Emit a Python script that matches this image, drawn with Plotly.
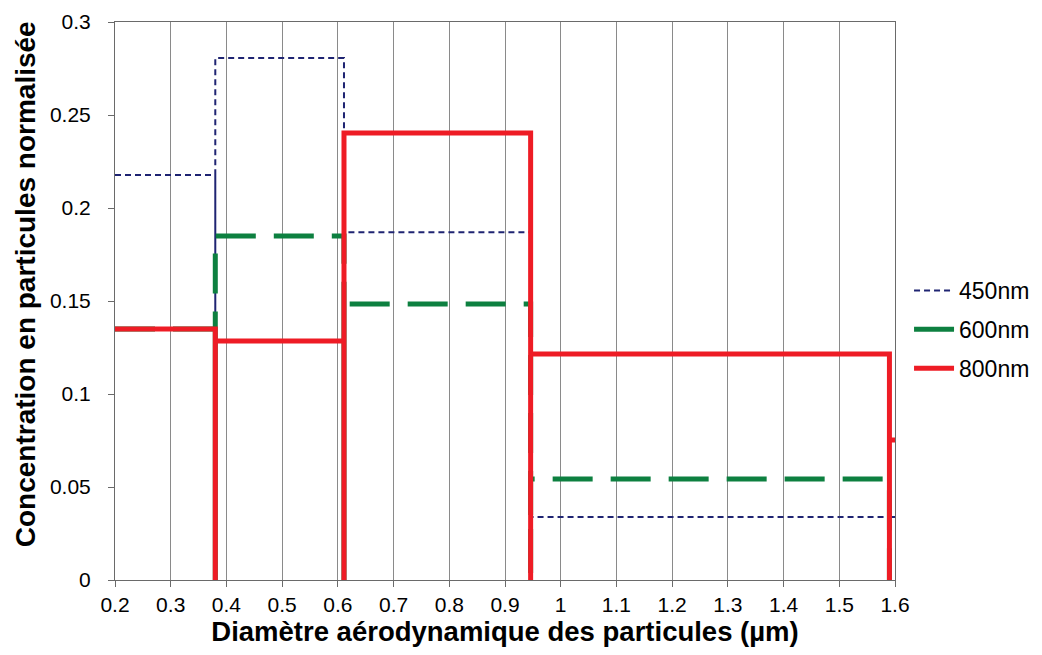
import plotly.graph_objects as go

# Bin edges (µm) and normalised concentrations per bin
edges = [0.2, 0.38, 0.611, 0.946, 1.59, 2.0]
c450 = [0.2177, 0.2806, 0.187, 0.0339, 0.0339]
c600 = [0.135, 0.185, 0.1484, 0.0543]
c800 = [0.135, 0.1285, 0.2403, 0.1215, 0.0753]
series_names = ["450nm", "600nm", "800nm"]

x_ticks = [0.2, 0.3, 0.4, 0.5, 0.6, 0.7, 0.8, 0.9, 1.0, 1.1, 1.2, 1.3, 1.4, 1.5, 1.6]
x_ticklabels = ["0.2", "0.3", "0.4", "0.5", "0.6", "0.7", "0.8", "0.9", "1",
                "1.1", "1.2", "1.3", "1.4", "1.5", "1.6"]
y_ticks = [0, 0.05, 0.1, 0.15, 0.2, 0.25, 0.3]
y_ticklabels = ["0", "0.05", "0.1", "0.15", "0.2", "0.25", "0.3"]
x_title = "Diamètre aérodynamique des particules (µm)"
y_title = "Concentration en particules normalisée"


def step_path(vals):
    xs, ys = [], []
    for i, v in enumerate(vals):
        xs += [edges[i], edges[i + 1], edges[i + 1]]
        ys += [v, v, 0]
    return xs, ys


FONT = "Liberation Sans, Arial, sans-serif"
colors = ["#1f2472", "#0d8040", "#ee1c25"]

fig = go.Figure()

x, y = step_path(c450)
fig.add_trace(go.Scatter(x=x, y=y, mode="lines", name=series_names[0], legendgroup="a",
                         line=dict(color=colors[0], width=2, dash="6px,4px")))
x, y = step_path(c600)
fig.add_trace(go.Scatter(x=x, y=y, mode="lines", name=series_names[1], showlegend=False,
                         legendgroup="b",
                         line=dict(color=colors[1], width=5, dash="40px,18px")))
fig.add_trace(go.Scatter(x=[None], y=[None], mode="lines", name=series_names[1],
                         legendgroup="b", line=dict(color=colors[1], width=5)))
x, y = step_path(c800)
fig.add_trace(go.Scatter(x=x, y=y, mode="lines", name=series_names[2], legendgroup="c",
                         line=dict(color=colors[2], width=5)))

fig.update_layout(
    width=1034, height=647,
    paper_bgcolor="white", plot_bgcolor="white",
    margin=dict(l=107, r=147, t=14, b=75, autoexpand=False),
    font=dict(family=FONT, color="black", size=21),
    legend=dict(x=1.018, xanchor="left", y=0.449, yanchor="middle",
                font=dict(size=23, family=FONT), bgcolor="rgba(0,0,0,0)",
                itemwidth=40, tracegroupgap=6),
)
fig.update_xaxes(
    range=[0.2, 1.6], tickvals=x_ticks, ticktext=x_ticklabels,
    showgrid=True, gridcolor="#8a8a8a", gridwidth=1,
    showline=True, linecolor="#6a6a6a", linewidth=1, mirror=True,
    ticks="outside", ticklen=6, tickcolor="#6a6a6a", automargin=False,
    zeroline=False, tickfont=dict(size=21),
    title=dict(text="<b>" + x_title + "</b>", font=dict(size=27.5), standoff=2),
)
fig.update_yaxes(
    range=[0, 0.3], tickvals=y_ticks, ticktext=y_ticklabels,
    showgrid=False, automargin=False, ticklabelstandoff=13,
    showline=True, linecolor="#6a6a6a", linewidth=1, mirror=True,
    ticks="outside", ticklen=6, tickcolor="#6a6a6a",
    zeroline=False, tickfont=dict(size=21),
)
fig.add_annotation(
    text="<b>" + y_title + "</b>", textangle=-90,
    xref="paper", yref="paper", x=-0.1154, y=0.53,
    xanchor="center", yanchor="middle", showarrow=False,
    font=dict(size=28, family=FONT, color="black"),
)

fig.write_html("out.html")
